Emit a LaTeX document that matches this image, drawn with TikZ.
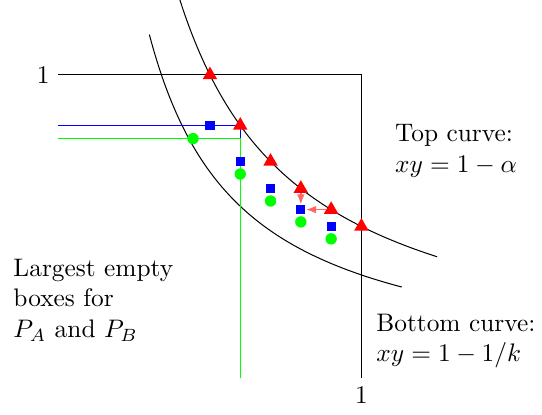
\documentclass[tikz,border=0pt]{standalone}
\usetikzlibrary{arrows.meta,shapes.geometric}

\begin{document}
\begin{tikzpicture}[
  x=4.2cm,
  y=4.2cm,
  topmark/.style={
    regular polygon,
    regular polygon sides=3,
    fill=red,
    inner sep=0pt,
    minimum size=6.6pt
  },
  boxmark/.style={rectangle,fill=blue,inner sep=0pt,minimum size=3.6pt},
  dotmark/.style={circle,fill=green,inner sep=0pt,minimum size=4.5pt},
  note/.style={anchor=west,align=left},
  move/.style={-{Latex[length=1.4mm]},red!60,semithick}
]
  \useasboundingbox (-0.193,-0.122) rectangle (1.596,1.2475);

  % unit square and the two curves
  \draw (0,1) -| (1,0);
  \node[anchor=east] (oney) at (0,1) {1};
  \node[anchor=north] (onex) at (1,0) {1};
  \draw[domain=0.4:1.25,samples=80,smooth] plot (\x,{0.5/\x});
  \draw[domain=0.3:1.1333,samples=80,smooth] plot (\x,{0.34/\x});

  % largest empty boxes
  \draw[blue] (0,{0.5/0.6}) -| (0.6,0);
  \draw[green] (0,0.79) -| (0.6,0);

  % points
  \foreach \i/\px in {1/0.5,2/0.6,3/0.7,4/0.8,5/0.9,6/1.0}
    \node[topmark] (t\i) at (\px,{0.5/\px}) {};
  \foreach \i/\px/\py in {1/0.5/0.6,2/0.6/0.7,3/0.7/0.8,4/0.8/0.9,5/0.9/1.0}
    \node[boxmark] (b\i) at (\px,{0.5/\py}) {};
  \foreach \i/\px/\py in {1/0.444/0.79,2/0.6/0.673,3/0.7/0.584,4/0.8/0.515,5/0.9/0.459}
    \node[dotmark] (g\i) at (\px,\py) {};

  \draw[move] (t4) -- (b4);
  \draw[move] (t5) -- (b4);

  % labels
  \node[note] (toplabel) at (1.082,0.749) {Top curve:\\$xy=1-\alpha$};
  \node[note] (botlabel) at (1.02,0.122) {Bottom curve:\\$xy=1-1/k$};
  \node[note] (boxlabel) at (-0.178,0.257) {Largest empty\\boxes for\\$P_A$ and $P_B$};
\end{tikzpicture}
\end{document}
